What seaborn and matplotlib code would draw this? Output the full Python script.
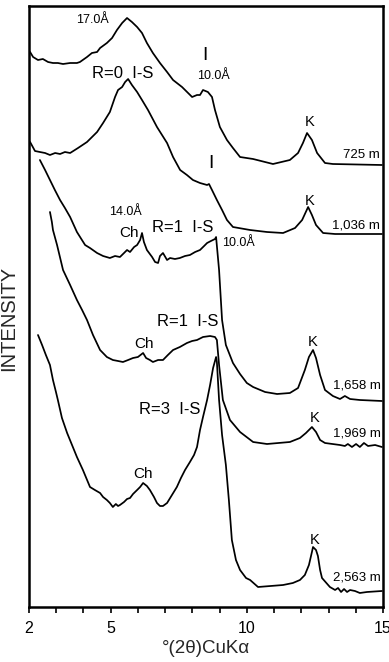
import matplotlib
matplotlib.use("Agg")
import matplotlib.pyplot as plt
import numpy as np
import pandas as pd
import seaborn as sns

# ---------------- data (2theta in degrees, intensity in arbitrary units) ----------------
depth_labels = ["725 m", "1,036 m", "1,658 m", "1,969 m", "2,563 m"]

x_725 = [2.04, 2.15, 2.33, 2.51, 2.70, 2.88, 3.06, 3.25, 3.51, 3.76, 3.87, 4.13, 4.31, 4.50, 4.61,
         4.86, 5.05, 5.23, 5.42, 5.60, 5.78, 5.97, 6.15, 6.33, 6.55, 6.81, 7.07, 7.29, 7.62, 7.99,
         8.17, 8.28, 8.39, 8.57, 8.72, 8.83, 9.01, 9.27, 9.49, 9.75, 10.23, 10.96, 11.58, 11.88,
         12.06, 12.21, 12.39, 12.58, 12.87, 13.16, 14.96]
y_725 = [555, 550, 547, 548, 545, 544, 544, 543, 544, 544, 545, 550, 554, 555, 559, 564, 569, 577,
         584, 589, 585, 580, 574, 564, 554, 544, 535, 527, 520, 510, 512, 512, 517, 515, 510, 497,
         480, 467, 459, 450, 448, 443, 447, 454, 464, 474, 467, 454, 444, 443, 442]

x_1036 = [2.04, 2.22, 2.40, 2.59, 2.77, 2.96, 3.14, 3.32, 3.51, 3.80, 4.13, 4.50, 4.72, 4.97, 5.16,
          5.27, 5.42, 5.53, 5.64, 5.78, 5.97, 6.15, 6.37, 6.70, 7.07, 7.29, 7.55, 7.80, 8.02, 8.28,
          8.54, 8.61, 8.72, 8.90, 9.09, 9.27, 9.49, 10.12, 10.74, 11.33, 11.77, 12.03, 12.25, 12.39,
          12.54, 12.80, 13.24, 14.96]
y_1036 = [465, 456, 455, 454, 452, 454, 453, 455, 454, 459, 465, 475, 484, 495, 510, 517, 520, 525,
          528, 522, 515, 507, 497, 480, 464, 450, 437, 432, 427, 424, 422, 423, 417, 407, 397, 387,
          380, 377, 375, 374, 379, 387, 400, 392, 382, 374, 373, 373]

x_1658 = [2.40, 2.59, 2.77, 2.95, 3.14, 3.32, 3.51, 3.76, 4.06, 4.24, 4.50, 4.72, 4.97, 5.16, 5.34,
          5.49, 5.60, 5.71, 5.86, 5.97, 6.08, 6.15, 6.22, 6.33, 6.52, 6.63, 6.74, 6.81, 6.92, 7.07,
          7.18, 7.36, 7.54, 7.73, 7.91, 8.10, 8.28, 8.43, 8.54, 8.68, 8.83, 8.87, 8.98, 9.09, 9.23,
          9.49, 9.75, 10.00, 10.23, 10.67, 11.11, 11.58, 11.88, 12.13, 12.28, 12.43, 12.54, 12.69,
          12.87, 13.16, 13.42, 13.60, 13.79, 14.15, 14.96]
y_1658 = [447, 437, 427, 417, 407, 399, 390, 375, 362, 359, 354, 351, 349, 351, 350, 354, 357, 355,
          360, 362, 367, 374, 365, 357, 350, 345, 344, 351, 354, 347, 349, 348, 349, 351, 352, 355,
          357, 361, 364, 366, 368, 370, 337, 287, 262, 244, 233, 224, 220, 215, 213, 214, 219, 237,
          250, 257, 249, 232, 217, 211, 208, 211, 208, 207, 206]

x_1969 = [2.77, 2.84, 2.88, 3.03, 3.25, 3.51, 3.76, 3.95, 4.13, 4.35, 4.61, 4.86, 5.08, 5.27, 5.45,
          5.64, 5.82, 6.00, 6.19, 6.30, 6.44, 6.55, 6.74, 6.92, 7.10, 7.29, 7.54, 7.80, 7.99, 8.17,
          8.39, 8.65, 8.83, 8.90, 8.98, 9.12, 9.38, 9.75, 10.23, 10.74, 11.58, 11.95, 12.17, 12.39,
          12.54, 12.69, 12.87, 13.42, 13.60, 13.71, 13.86, 14.01, 14.15, 14.30, 14.45, 14.71, 14.96]
y_1969 = [395, 385, 377, 362, 337, 322, 307, 297, 287, 272, 257, 250, 247, 246, 245, 247, 249, 250,
          254, 249, 247, 245, 247, 247, 252, 257, 260, 264, 266, 267, 270, 271, 270, 267, 242, 207,
          187, 175, 165, 163, 165, 169, 174, 180, 175, 167, 164, 162, 161, 163, 160, 163, 160, 164,
          161, 162, 160]

x_2563 = [2.33, 2.48, 2.62, 2.77, 2.88, 2.99, 3.06, 3.21, 3.40, 3.58, 3.76, 3.98, 4.24, 4.42, 4.61,
          4.72, 4.86, 4.97, 5.08, 5.19, 5.27, 5.34, 5.49, 5.60, 5.71, 5.82, 5.97, 6.08, 6.19, 6.33,
          6.44, 6.59, 6.70, 6.81, 6.92, 7.07, 7.25, 7.43, 7.58, 7.73, 7.91, 8.06, 8.17, 8.28, 8.39,
          8.54, 8.65, 8.76, 8.87, 8.90, 8.98, 9.09, 9.23, 9.34, 9.45, 9.60, 9.75, 9.97, 10.12, 10.41,
          11.33, 11.69, 11.95, 12.13, 12.28, 12.39, 12.43, 12.54, 12.61, 12.69, 12.76, 13.05, 13.24,
          13.35, 13.46, 13.57, 13.68, 13.79, 13.97, 14.15, 14.41, 14.96]
y_2563 = [272, 262, 252, 242, 227, 215, 207, 189, 174, 162, 150, 137, 120, 117, 114, 110, 107, 104,
          100, 103, 101, 102, 105, 108, 109, 113, 117, 120, 124, 121, 117, 110, 104, 101, 101, 104,
          112, 120, 129, 137, 145, 152, 160, 177, 190, 207, 222, 239, 250, 245, 207, 172, 142, 107,
          67, 47, 37, 29, 27, 20, 22, 24, 27, 32, 42, 55, 60, 57, 51, 37, 29, 20, 17, 19, 15, 18, 15,
          17, 16, 14, 15, 16]

tick_values = list(range(2, 16))
tick_labels = ["2", "", "", "5", "", "", "", "", "10", "", "", "", "", "15"]

# ---------------- assemble long table ----------------
series = [(depth_labels[0], x_725, y_725), (depth_labels[1], x_1036, y_1036),
          (depth_labels[2], x_1658, y_1658), (depth_labels[3], x_1969, y_1969),
          (depth_labels[4], x_2563, y_2563)]
df = pd.concat([pd.DataFrame({"two_theta": xs, "intensity": ys, "depth": name})
                for name, xs, ys in series], ignore_index=True)

# ---------------- plot ----------------
sns.set_style("white")
plt.rcParams["font.family"] = ["Liberation Sans", "DejaVu Sans"]

fig = plt.figure(figsize=(3.89, 6.62), dpi=100)
ax = fig.add_axes([29 / 389, 55 / 662, 354 / 389, 601 / 662])

sns.lineplot(data=df, x="two_theta", y="intensity", units="depth", estimator=None, sort=False,
             color="black", linewidth=1.25, ax=ax, legend=False)

ax.set_xlim(2, 15)
ax.set_ylim(0, 601)
ax.set_xticks(tick_values)
ax.set_xticklabels(tick_labels)
ax.set_yticks([])
ax.tick_params(axis="x", bottom=True, direction="out", length=4, width=1.2, labelsize=11.5,
               pad=6, colors="black")
for s in ax.spines.values():
    s.set_visible(True)
    s.set_color("black")
    s.set_linewidth(1.8)

ax.set_xlabel("°(2θ)CuKα", fontsize=13.5)
ax.xaxis.set_label_coords(0.5, -0.055)
ax.set_ylabel("INTENSITY", fontsize=14.5)
ax.yaxis.set_label_coords(-0.032, 0.48)

def lab(x, y, s, size, ha="center"):
    ax.text(x, y, s, fontsize=size, ha=ha, va="center", color="black")

# trace 725 m
lab(4.31, 587, "17.0Å", 9)
lab(5.45, 533, "R=0  I-S", 12)
lab(8.46, 551, "I", 14)
lab(8.76, 531, "10.0Å", 9)
lab(12.32, 485, "K", 10.5)
lab(14.87, 452, "725 m", 9.5, ha="right")
# trace 1,036 m
lab(8.68, 444, "I", 14)
lab(12.32, 406, "K", 10.5)
lab(14.87, 382, "1,036 m", 9.5, ha="right")
# trace 1,658 m
lab(5.53, 395, "14.0Å", 9)
lab(5.67, 374, "Ch", 11)
lab(7.66, 380, "R=1  I-S", 12)
lab(9.68, 364, "10.0Å", 9)
lab(12.43, 265, "K", 10.5)
lab(14.92, 222, "1,658 m", 9.5, ha="right")
# trace 1,969 m
lab(7.84, 285, "R=1  I-S", 12)
lab(6.22, 263, "Ch", 11)
lab(12.50, 189, "K", 10.5)
lab(14.92, 173, "1,969 m", 9.5, ha="right")
# trace 2,563 m
lab(7.18, 197, "R=3  I-S", 12)
lab(6.19, 133, "Ch", 11)
lab(12.50, 67, "K", 10.5)
lab(14.92, 30, "2,563 m", 9.5, ha="right")

fig.savefig("out.png", dpi=100)
